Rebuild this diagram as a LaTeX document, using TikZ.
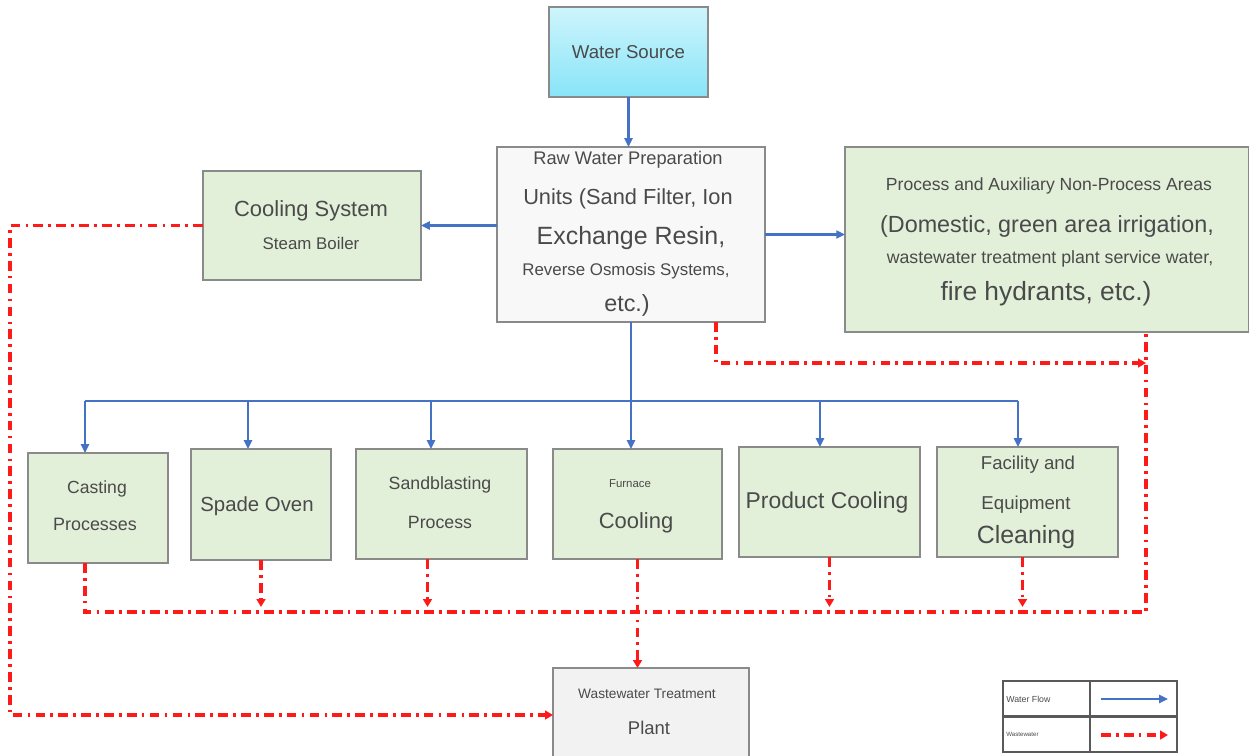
\documentclass[tikz,border=0pt]{standalone}
\usepackage{fontspec}
\setmainfont{Liberation Sans}
\usetikzlibrary{arrows.meta,calc}
\definecolor{gfill}{HTML}{E2EFD9}
\definecolor{bord}{HTML}{8A8A8A}
\definecolor{txt}{HTML}{4A4A4A}
\definecolor{wblue}{HTML}{4472C4}
\definecolor{wred}{HTML}{FF1A1A}
\definecolor{rawfill}{HTML}{F8F8F8}
\definecolor{wwfill}{HTML}{F2F2F2}
\newcommand{\fs}[1]{\fontsize{#1}{#1}\selectfont}
\begin{document}
\begin{tikzpicture}[x=0.02cm,y=-0.02cm,
  box/.style={draw=bord,line width=1pt,inner sep=0pt,outer sep=0pt},
  gbox/.style={box,fill=gfill},
  lbl/.style={text=txt,inner sep=0pt,anchor=center},
  wf/.style={draw=wblue,line width=1.3pt,-{Triangle[length=5pt,width=4.5pt]}},
  wfl/.style={draw=wblue,line width=1.3pt},
  ww/.style={draw=wred,line width=2pt,dash pattern=on 5.5pt off 3pt on 1.5pt off 3pt},
  wwa/.style={ww,-{Triangle[length=4.5pt,width=5pt]}}]
\useasboundingbox (0,0) rectangle (1249,755);
% boxes
\node[box,top color={rgb,255:red,206;green,245;blue,252},bottom color={rgb,255:red,136;green,228;blue,248},minimum width=3.18cm,minimum height=1.8cm] (ws) at (628.5,52) {};
\node[lbl] (ws-t) at (ws) {\fs{10.6}Water Source};
\node[box,fill=rawfill,minimum width=5.36cm,minimum height=3.5cm] (raw) at (631,234.5) {};
\node[lbl] (raw-t1) at (628,160) {\fs{10.4}Raw Water Preparation};
\node[lbl] (raw-t2) at (628,199) {\fs{12.4}Units (Sand Filter, Ion};
\node[lbl] (raw-t3) at (631,238) {\fs{14.2}Exchange Resin,};
\node[lbl] (raw-t4) at (626,271) {\fs{9.6}Reverse Osmosis Systems,};
\node[lbl] (raw-t5) at (627,305) {\fs{13.3}etc.)};
\node[gbox,minimum width=4.36cm,minimum height=2.18cm] (cool) at (312,225.5) {};
\node[lbl] (cool-t1) at (311,211) {\fs{12.5}Cooling System};
\node[lbl] (cool-t2) at (311,243) {\fs{9.6}Steam Boiler};
\node[gbox,minimum width=8.08cm,minimum height=3.7cm] (proc) at (1047,239.5) {};
\node[lbl] (proc-t1) at (1049,186) {\fs{10}Process and Auxiliary Non-Process Areas};
\node[lbl] (proc-t2) at (1047,226) {\fs{13.3}(Domestic, green area irrigation,};
\node[lbl] (proc-t3) at (1050,259) {\fs{10.1}wastewater treatment plant service water,};
\node[lbl] (proc-t4) at (1046,294) {\fs{15}fire hydrants, etc.)};
\node[gbox,minimum width=2.8cm,minimum height=2.2cm] (cast) at (98,508) {};
\node[lbl] (cast-t1) at (97,489) {\fs{10}Casting};
\node[lbl] (cast-t2) at (95,524) {\fs{10.2}Processes};
\node[gbox,minimum width=2.8cm,minimum height=2.22cm] (spade) at (261,504.5) {};
\node[lbl] (spade-t) at (257,506) {\fs{11.6}Spade Oven};
\node[gbox,minimum width=3.42cm,minimum height=2.2cm] (sand) at (441.5,504) {};
\node[lbl] (sand-t1) at (440,485) {\fs{10.1}Sandblasting};
\node[lbl] (sand-t2) at (440,522) {\fs{10.1}Process};
\node[gbox,minimum width=3.38cm,minimum height=2.2cm] (furn) at (637.5,504) {};
\node[lbl] (furn-t1) at (630,484) {\fs{6.5}Furnace};
\node[lbl] (furn-t2) at (636,523) {\fs{12.5}Cooling};
\node[gbox,minimum width=3.62cm,minimum height=2.2cm] (prod) at (829.5,502) {};
\node[lbl] (prod-t) at (827,503) {\fs{13}Product Cooling};
\node[gbox,minimum width=3.62cm,minimum height=2.2cm] (fac) at (1027.5,502) {};
\node[lbl] (fac-t1) at (1028,465) {\fs{10.6}Facility and};
\node[lbl] (fac-t2) at (1026,505) {\fs{10.6}Equipment};
\node[lbl] (fac-t3) at (1026,537) {\fs{14.2}Cleaning};
\node[box,fill=wwfill,minimum width=3.92cm,minimum height=2.0cm] (wwtp) at (651,718) {};
\node[lbl] (wwtp-t1) at (647,694) {\fs{7.8}Wastewater Treatment};
\node[lbl] (wwtp-t2) at (649,728) {\fs{10.5}Plant};
% water flow
\draw[wf] (ws.south) -- (ws.south |- raw.north);
\draw[wf] (raw.west |- cool.east) -- (cool.east);
\draw[wf] (raw.east) -- (proc.west |- raw.east);
\coordinate (bus) at (631,401);
\coordinate (bc) at ($(cast.north)+(-13,0)$);
\coordinate (bs) at ($(spade.north)+(-13,0)$);
\coordinate (bd) at ($(sand.north)+(-10.5,0)$);
\coordinate (bf) at ($(furn.north)+(-6.5,0)$);
\coordinate (bp) at ($(prod.north)+(-9.5,0)$);
\coordinate (bq) at ($(fac.north)+(-9.5,0)$);
\draw[wfl] (raw.south) -- (bus);
\draw[wfl] (bc |- bus) -- (bq |- bus);
\draw[wf] (bc |- bus) -- (bc);
\draw[wf] (bs |- bus) -- (bs);
\draw[wf] (bd |- bus) -- (bd);
\draw[wf] (bf |- bus) -- (bf);
\draw[wf] (bp |- bus) -- (bp);
\draw[wf] (bq |- bus) -- (bq);
% wastewater
\coordinate (lft) at (10,715);
\draw[wwa] (cool.west) -- (cool.west -| lft) -- (lft) -- (lft -| wwtp.west);
\coordinate (rc) at (716,363);
\coordinate (pc) at (1146,612);
\draw[wwa] (rc |- raw.south) -- (rc) -- (pc |- rc);
\coordinate (cs) at ($(cast.south)+(-13,0)$);
\draw[ww] (cs) |- (pc) -- (pc |- proc.south);
\draw[wwa] (spade.south) -- (spade.south |- 0,607);
\coordinate (sd) at ($(sand.south)+(-14,0)$);
\draw[wwa] (sd) -- (sd |- 0,607);
\draw[wwa] (furn.south) -- (furn.south |- wwtp.north);
\draw[wwa] (prod.south) -- (prod.south |- 0,607);
\coordinate (fd) at ($(fac.south)+(-5,0)$);
\draw[wwa] (fd) -- (fd |- 0,607);
% legend
\node[draw=black!65,line width=1.2pt,minimum width=3.48cm,minimum height=1.42cm,inner sep=0pt] (leg) at (1090,716.5) {};
\draw[black!65,line width=1.2pt] (leg.north) -- (leg.south);
\draw[black!65,line width=1.2pt] (leg.west) -- (leg.east);
\node[lbl,anchor=west] (leg-t1) at (1006,699) {\fs{5}Water Flow};
\node[lbl,anchor=west] (leg-t2) at (1006,734) {\fs{3.5}Wastewater};
\coordinate (l1a) at (1101,699);
\coordinate (l1b) at (1168,699);
\coordinate (l2a) at (1101,735);
\coordinate (l2b) at (1168,735);
\draw[wf] (l1a) -- (l1b);
\draw[wwa] (l2a) -- (l2b);
\end{tikzpicture}
\end{document}
